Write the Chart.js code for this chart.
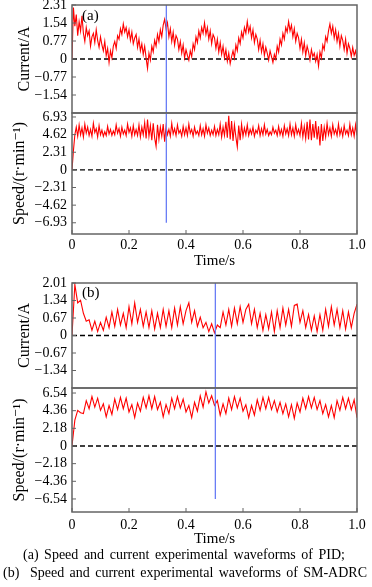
<!DOCTYPE html>
<html>
<head>
<meta charset="utf-8">
<script src="https://cdn.jsdelivr.net/npm/chart.js@4.4.0/dist/chart.umd.min.js"></script>
<style>
  html, body { margin: 0; padding: 0; background: #fff; }
  #page { position: relative; width: 372px; height: 587px; overflow: hidden; font-family: 'Liberation Serif', 'DejaVu Serif', serif; }
  #page canvas { position: absolute; left: 0; }
  .caption { position: absolute; font-size: 14px; line-height: 16px; color: #000; white-space: nowrap; text-align: justify; text-align-last: justify; }
</style>
</head>
<body>
<div id="page">
  <canvas id="current-a" width="372" height="148" style="top:-15px"></canvas>
  <canvas id="speed-a" width="372" height="181" style="top:93px"></canvas>
  <canvas id="current-b" width="372" height="145" style="top:263px"></canvas>
  <canvas id="speed-b" width="372" height="184" style="top:368px"></canvas>
  <div class="caption" style="left:23px; width:322px; top:547px;">(a) Speed and current experimental waveforms of PID;</div>
  <div class="caption" style="left:3px; width:364px; top:565px;">(b)&nbsp; Speed and current experimental waveforms of SM-ADRC</div>
</div>
<script>
const SERIF = "'Liberation Serif', 'DejaVu Serif', serif";
const RED = '#ff0000';
const BLUE = 'rgb(105,125,245)';
const FRAME = '#646464';

// sampling step of the read-off waveforms (s)
const stepA = 0.005;
const stepB = 0.01;

// (a) PID
const currentA = [
    0.0, 2.2, 1.4, 1.9, 1.0, 1.6, 1.2, 1.85, 1.1, 0.75, 1.35, 1.0, 1.2, 0.55, 0.95, 1.1, 0.7, 1.25, 0.8, 0.5,
    0.95, 0.6, 0.35, 0.75, 0.15, 0.45, -0.15,
    0.35, 0.05, 0.55, 0.75, 0.45, 1.0, 0.85, 1.3, 1.05, 1.5,
    1.15, 1.35, 0.95, 1.25, 0.8, 1.15, 0.65, 0.9, 1.05, 0.5, 0.85, 0.35, 0.65, 0.2, 0.55, 0.05, -0.4,
    0.25, -0.05, 0.55, 0.3, 0.8, 0.55, 1.05, 0.75, 1.25, 0.95, 1.45, 1.7,
    1.3, 1.55, 0.95, 1.3, 0.75, 1.15, 0.6, 1.0, 0.85, 0.4, 0.75, 0.25, 0.6, 0.05, 0.4, 0.15, -0.05,
    0.35, 0.1, 0.65, 0.4, 0.95, 0.7, 1.2, 0.9, 1.35, 1.1, 1.55,
    1.05, 1.35, 0.85, 1.2, 0.65, 1.05, 0.9, 0.45, 0.85, 0.3, 0.7, 0.2, 0.55, 0.05, 0.4, -0.1, 0.25, -0.2, 0.1,
    0.35, 0.05, 0.6, 0.35, 0.9, 0.65, 1.15, 0.9, 1.35, 1.1, 1.6,
    1.15, 1.4, 0.9, 1.25, 0.7, 1.05, 0.85, 0.4, 0.8, 0.3, 0.65, 0.15, 0.5, 0.25, -0.05, 0.35, 0.1, -0.15, 0.2,
    0.0, 0.55, 0.3, 0.85, 0.6, 1.1, 0.85, 1.35, 1.15, 1.6,
    1.2, 1.45, 0.95, 1.3, 0.75, 1.1, 0.9, 0.45, 0.85, 0.3, 0.7, 0.15, 0.55, 0.3, -0.05, 0.4, 0.1, 0.25, -0.1, 0.2, -0.3,
    0.3, 0.05, 0.6, 0.4, 0.95, 0.75, 1.2, 1.5,
    1.1, 1.4, 0.9, 1.25, 0.75, 1.1, 0.55, 1.0, 0.8, 0.4, 0.85, 0.25, 0.65, 0.45, 0.1, 0.5, 0.15, 0.35, 0.0
];
const speedA = [
    0, 2.5, 4.6, 5.6, 4.4, 5.9, 4.6, 5.5, 4.3, 6.0, 4.8, 5.6, 4.5, 5.3, 4.4, 6.1, 4.9, 5.4, 4.3, 5.8,
    4.6, 5.2, 4.4, 5.0, 4.5, 5.7, 4.7, 5.3, 4.5, 5.1, 4.6, 5.9, 4.8, 5.4, 4.4, 5.6, 4.7, 5.2, 4.5, 6.0,
    4.9, 5.5, 4.4, 5.8, 4.6, 5.3, 4.5, 5.9, 4.3, 5.6, 4.6, 6.2, 4.1, 6.6, 4.4, 5.8, 3.9, 6.1, 4.2, 3.1,
    5.9, 4.0, 5.6, 4.4, 6.0, 3.7, 5.7, 4.6, 5.3, 4.4, 6.1, 4.7, 5.4, 4.5, 5.9, 4.8, 5.2, 4.4, 5.7, 4.6,
    5.5, 4.5, 6.0, 4.8, 5.3, 4.4, 5.6, 4.7, 5.1, 4.5, 5.8, 4.6, 5.4, 4.4, 5.9, 4.8, 5.5, 4.5, 5.2, 4.6,
    5.7, 4.5, 5.3, 4.6, 6.0, 4.3, 5.6, 4.5, 6.3, 4.2, 7.1, 4.0, 6.4, 3.8, 5.9, 4.3, 3.0, 5.8, 3.9, 6.0,
    4.4, 5.5, 4.6, 5.9, 4.5, 5.3, 4.7, 5.6, 4.4, 5.2, 4.8, 5.8, 4.5, 5.4, 4.6, 5.9, 4.7, 5.3, 4.5, 5.0,
    4.6, 5.6, 4.8, 5.2, 4.5, 5.7, 4.6, 5.3, 4.4, 5.8, 4.7, 5.4, 4.5, 6.0, 4.6, 5.5, 4.4, 5.9, 4.7, 5.3,
    4.5, 6.1, 4.3, 5.7, 4.1, 6.3, 4.0, 6.6, 3.9, 6.0, 4.2, 6.4, 4.0, 5.7, 3.2, 6.0, 3.8, 5.6, 4.3, 6.1,
    4.6, 5.5, 4.4, 5.9, 4.7, 5.3, 4.5, 6.0, 4.6, 5.4, 4.4, 5.8, 4.7, 5.2, 4.5, 6.0, 4.6, 5.5, 4.4, 5.9, 4.5
];

// (b) SM-ADRC
const currentB = [
    0.0, 1.95, 1.25, 1.35, 0.85, 0.55, 0.6, 0.2, 0.55, 0.15, 0.5, 0.2, 0.7, 0.3, 0.9, 0.35, 1.0, 0.4, 0.85, 0.3,
    1.1, 0.45, 1.25, 0.5, 1.0, 0.35, 0.9, 0.3, 0.95, 0.25, 0.85, 0.3, 1.0, 0.35, 0.95, 0.3, 1.05, 0.4, 1.1, 0.45,
    0.95, 1.25, 0.5, 0.95, 0.35, 0.7, 0.3, 0.5, 0.15, 0.45, 0.1, 0.4, 0.3, 0.9, 0.4, 1.0, 0.35, 1.05, 0.45, 1.1,
    0.5, 1.0, 1.2, 0.45, 1.0, 0.3, 0.85, 0.2, 0.8, 0.25, 0.9, 0.15, 0.95, 0.3, 1.05, 0.4, 1.0, 0.35, 1.15, 1.2,
    0.5, 0.95, 0.3, 0.8, 0.2, 0.75, 0.15, 0.8, 0.2, 1.0, 0.35, 1.1, 0.4, 1.0, 0.3, 0.95, 0.25, 0.9, 0.3, 0.85, 1.2
];
const speedB = [
    0, 3.2, 4.4, 4.1, 4.0, 5.6, 4.6, 6.1, 4.8, 5.9, 4.4, 5.2, 3.6, 5.0, 3.9, 5.8, 4.5, 6.0, 4.6, 5.9,
    4.2, 5.1, 3.5, 5.3, 4.3, 6.0, 4.7, 6.2, 4.6, 6.1, 4.5, 5.4, 3.6, 5.1, 4.0, 5.9, 4.6, 6.1, 4.7, 5.8,
    4.2, 5.0, 3.5, 5.4, 4.3, 6.2, 4.8, 6.7, 5.3, 6.2, 5.0, 5.6, 3.8, 5.2, 4.0, 5.9, 4.5, 6.1, 4.7, 5.9,
    4.3, 5.1, 3.5, 5.0, 3.8, 5.7, 4.4, 6.0, 4.6, 6.0, 4.5, 5.6, 4.2, 5.4, 4.0, 5.2, 3.6, 5.1, 3.4, 5.3,
    4.2, 5.9, 4.6, 6.1, 4.7, 6.0, 4.5, 5.6, 4.0, 5.1, 3.6, 5.0, 3.5, 5.6, 4.4, 6.0, 4.6, 5.9, 4.5, 5.7, 3.5
];

// axes
const timeTicks = [0, 0.2, 0.4, 0.6, 0.8, 1.0];
const timeLabels = ['0', '0.2', '0.4', '0.6', '0.8', '1.0'];
const currentTicksA = [2.31, 1.54, 0.77, 0, -0.77, -1.54];
const speedTicksA = [6.93, 4.62, 2.31, 0, -2.31, -4.62, -6.93];
const currentTicksB = [2.01, 1.34, 0.67, 0, -0.67, -1.34];
const speedTicksB = [6.54, 4.36, 2.18, 0, -2.18, -4.36, -6.54];
const speedRangeA = [-8.4, 7.45];
const speedRangeB = [-8.15, 7.16];

// time of the blue cursor line
const cursorA = 0.331;
const cursorB = 0.503;

function fmt(v) {
    if (v === 0) return '0';
    return (v < 0 ? '\u2212' : '') + Math.abs(v).toFixed(2);
}

const framePlugin = {
    id: 'frame',
    afterDatasetsDraw(chart, args, opts) {
        const { ctx, chartArea: a, scales } = chart;
        ctx.save();
        ctx.strokeStyle = FRAME;
        ctx.lineWidth = 1;
        ctx.beginPath();
        scales.y.ticks.forEach(t => {
            const py = scales.y.getPixelForValue(t.value);
            ctx.moveTo(a.left, py);
            ctx.lineTo(a.left + 4, py);
        });
        if (opts.showTime) {
            scales.x.ticks.forEach(t => {
                const px = scales.x.getPixelForValue(t.value);
                ctx.moveTo(px, a.bottom);
                ctx.lineTo(px, a.bottom - 4);
            });
        }
        ctx.stroke();
        ctx.lineWidth = 1.5;
        ctx.strokeRect(a.left, a.top, a.right - a.left, a.bottom - a.top);
        if (opts.tag) {
            ctx.fillStyle = '#000';
            ctx.font = '15px ' + SERIF;
            ctx.textBaseline = 'middle';
            ctx.fillText(opts.tag, a.left + 10, a.top + opts.tagY);
        }
        ctx.restore();
    }
};

function makePanel(id, cfg) {
    const canvas = document.getElementById(id);
    const series = cfg.values.map((v, i) => ({ x: i * cfg.step, y: v }));
    return new Chart(canvas, {
        type: 'line',
        data: {
            datasets: [
                { data: [{ x: cfg.cursor, y: cfg.cursorTop }, { x: cfg.cursor, y: cfg.cursorBottom }], borderColor: BLUE, borderWidth: 1.3 },
                { data: series, borderColor: RED, borderWidth: 1.1 },
                { data: [{ x: 0, y: 0 }, { x: 1, y: 0 }], borderColor: '#000', borderWidth: 1.3, borderDash: [5, 3] }
            ]
        },
        options: {
            responsive: false,
            animation: false,
            devicePixelRatio: 1,
            layout: { padding: { top: 20, bottom: cfg.showTime ? 4 : 20, left: 0, right: 15 } },
            elements: { point: { radius: 0 }, line: { tension: 0 } },
            plugins: {
                legend: { display: false },
                tooltip: { enabled: false },
                frame: { tag: cfg.tag, tagY: cfg.tagY, showTime: cfg.showTime }
            },
            scales: {
                x: {
                    type: 'linear',
                    min: 0,
                    max: 1,
                    display: cfg.showTime,
                    afterBuildTicks: s => { s.ticks = timeTicks.map(v => ({ value: v })); },
                    afterFit: s => { s.height = cfg.showTime ? 36 : 0; },
                    grid: { display: false, drawTicks: false },
                    border: { display: false },
                    ticks: {
                        padding: cfg.timePad,
                        color: '#000',
                        font: { family: SERIF, size: 14 },
                        maxRotation: 0,
                        callback: (v, i) => timeLabels[i]
                    },
                    title: { display: true, text: 'Time/s', color: '#000', font: { family: SERIF, size: 15 }, padding: { top: 0, bottom: 0 } }
                },
                y: {
                    type: 'linear',
                    min: cfg.range[0],
                    max: cfg.range[1],
                    afterBuildTicks: s => { s.ticks = cfg.ticks.map(v => ({ value: v })); },
                    afterFit: s => { s.width = 72; },
                    grid: { display: false, drawTicks: false },
                    border: { display: false },
                    ticks: {
                        padding: 5,
                        color: '#000',
                        font: { family: SERIF, size: 14 },
                        callback: v => fmt(v)
                    },
                    title: { display: true, text: cfg.title, color: '#000', font: { family: SERIF, size: 16 }, padding: { top: cfg.titlePad, bottom: 0 } }
                }
            }
        },
        plugins: [framePlugin]
    });
}

makePanel('current-a', {
    values: currentA, step: stepA, range: [-2.31, 2.31], ticks: currentTicksA,
    title: 'Current/A', titlePad: 15, tag: '(a)', tagY: 11,
    cursor: cursorA, cursorTop: 2.31, cursorBottom: -2.31, showTime: false
});
makePanel('speed-a', {
    values: speedA, step: stepA, range: speedRangeA, ticks: speedTicksA,
    title: 'Speed/(r\u00b7min\u207b\u00b9)', titlePad: 10,
    cursor: cursorA, cursorTop: speedRangeA[1], cursorBottom: -6.93, showTime: true, timePad: 3
});
makePanel('current-b', {
    values: currentB, step: stepB, range: [-2.01, 2.01], ticks: currentTicksB,
    title: 'Current/A', titlePad: 15, tag: '(b)', tagY: 10,
    cursor: cursorB, cursorTop: 2.01, cursorBottom: -2.01, showTime: false
});
makePanel('speed-b', {
    values: speedB, step: stepB, range: speedRangeB, ticks: speedTicksB,
    title: 'Speed/(r\u00b7min\u207b\u00b9)', titlePad: 10,
    cursor: cursorB, cursorTop: speedRangeB[1], cursorBottom: -6.54, showTime: true, timePad: 5
});
</script>
</body>
</html>
